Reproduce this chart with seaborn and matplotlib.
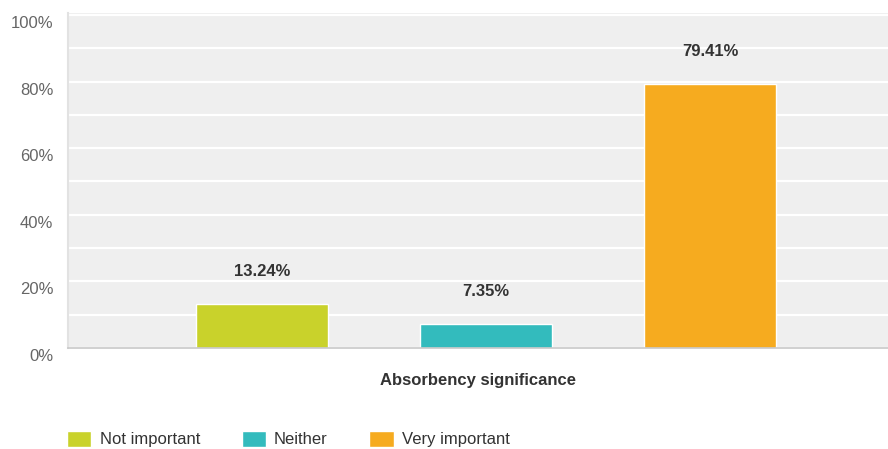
import matplotlib
matplotlib.use("Agg")
import matplotlib.pyplot as plt
import matplotlib.transforms as mtransforms
import seaborn as sns
import pandas as pd

# Data
question = ["Absorbency significance"]
responses = ["Not important", "Neither", "Very important"]
values = [13.24, 7.35, 79.41]
colors = ["#c9d22b", "#33bbbd", "#f6ab1f"]
yticks = [0, 20, 40, 60, 80, 100]

df = pd.DataFrame({
    "question": question * len(responses),
    "response": responses,
    "value": values,
})

sns.set_theme(style="white")
plt.rcParams["font.family"] = ["Liberation Sans", "DejaVu Sans"]

fig = plt.figure(figsize=(8.88, 4.49), dpi=100)
W, H = 888, 449
ax = fig.add_axes([68 / W, 1 - 348 / H, 820 / W, (348 - 13) / H])
ax.set_facecolor("#efefef")

sns.barplot(data=df, x="question", y="value", hue="response",
            hue_order=responses, palette=colors, width=0.82, gap=0.41,
            saturation=1, ax=ax, legend=True)

ax.set_xlim(-0.51, 0.49)
ax.set_ylim(0, 100.6)
ax.set_yticks(yticks)
ax.set_yticklabels([f"{v}%" for v in yticks])
ax.set_yticks(range(10, 101, 20), minor=True)
ax.grid(axis="y", which="both", color="white", linewidth=1.6)
ax.set_axisbelow(True)
ax.tick_params(axis="y", length=0, pad=10.5, labelsize=12, labelcolor="#666666")
ax.tick_params(axis="y", which="minor", length=0)
ax.set_xticks([])
ax.set_ylabel("")
ax.set_xlabel("Absorbency significance", fontsize=12, fontweight="bold",
              color="#333333", labelpad=18)

off = mtransforms.ScaledTranslation(0, -7 / 100, fig.dpi_scale_trans)
for lab in ax.get_yticklabels():
    lab.set_transform(lab.get_transform() + off)

for side in ["top", "right"]:
    ax.spines[side].set_visible(False)
ax.spines["bottom"].set_color("#c8c8c8")
ax.spines["bottom"].set_linewidth(1.2)
ax.spines["left"].set_color("#e2e2e2")
ax.spines["left"].set_linewidth(1.5)

for cont in ax.containers:
    for bar in cont:
        h = bar.get_height()
        ax.annotate(f"{h:.2f}%", (bar.get_x() + bar.get_width() / 2, h),
                    xytext=(0, 23), textcoords="offset points",
                    ha="center", va="center", fontsize=12, fontweight="bold",
                    color="#333333")

handles, labels = ax.get_legend_handles_labels()
ax.get_legend().remove()
fig.legend(handles, labels, loc="center left",
           bbox_to_anchor=(52 / W, 1 - 439 / H), ncol=3, frameon=False,
           fontsize=12, handlelength=1.45, handleheight=1.1,
           handletextpad=0.5, columnspacing=2.5, labelcolor="#333333")

fig.savefig("out.png", dpi=100)
